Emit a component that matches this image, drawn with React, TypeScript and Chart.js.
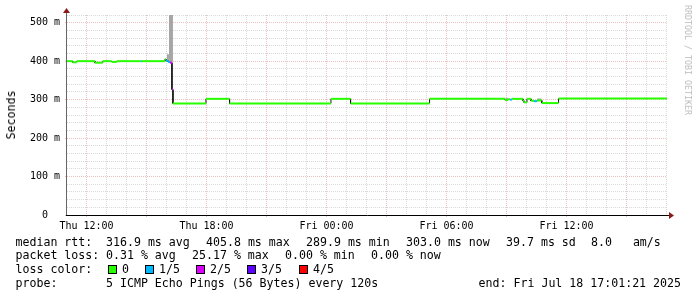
import React, { useEffect, useRef } from 'react';
import { Chart, registerables } from 'chart.js';

Chart.register(...registerables);

// ---- time range (hours since Thu 00:00) ----
const START_HOUR = 11 + 1 / 60 + 21 / 3600; // Thu 11:01:21
const END_HOUR = START_HOUR + 30; // Fri 17:01:21

// ---- median rtt (ms), step starts in hours, loss level (0..4 of 5 pings) ----
const medianHours = [
  11.0225, 11.31, 11.51, 12.42, 12.81, 13.26, 13.51, 14.72, 14.77, 15.92, 15.97, 16.07,
  16.17, 16.27, 16.32, 17.97, 19.15, 24.22, 25.2, 29.15, 32.92, 33.07, 33.17, 33.27,
  33.82, 33.87, 34.02, 34.22, 34.37, 34.52, 34.76, 35.6,
];
const medianMs = [
  400, 397, 400, 396, 400, 398, 400, 400, 400, 405, 401, 398,
  396, 326, 290, 302, 290, 302, 290, 302, 299, 301, 300, 302,
  297, 293, 302, 297, 296, 298, 291, 303,
];
const lossLevel = [
  0, 0, 0, 0, 0, 0, 0, 1, 0, 0, 1, 1,
  2, 2, 0, 0, 0, 0, 0, 0, 0, 0, 1, 0,
  0, 0, 0, 0, 1, 0, 0, 0,
];

// ---- smoke (spread of the pings) ----
const smokeStartHours = [16.02, 16.12, 32.95, 34.52];
const smokeEndHours = [16.12, 16.32, 33.07, 34.76];
const smokeLowMs = [398, 398, 298, 296];
const smokeHighMs = [418, 520, 305, 303];

// ---- axes ----
const xTickHours = [12, 18, 24, 30, 36];
const xTickLabels = ['Thu 12:00', 'Thu 18:00', 'Fri 00:00', 'Fri 06:00', 'Fri 12:00'];
const yTickValues = [0, 100, 200, 300, 400, 500];
const yTickLabels = ['0  ', '100 m', '200 m', '300 m', '400 m', '500 m'];
const Y_MAX = 520;

// ---- legend ----
const lossNames = ['0', '1/5', '2/5', '3/5', '4/5'];
const lossColors = ['#26ff00', '#00b8ff', '#dd00ff', '#5e00ff', '#ff0000'];
const rttRow = ['median rtt:', '316.9 ms avg', '405.8 ms max', '289.9 ms min', '303.0 ms now', '39.7 ms sd', '8.0   am/s'];
const lossRow = ['packet loss:', '0.31 % avg', '25.17 % max', '0.00 % min', '0.00 % now'];
const probeRow = ['probe:', '5 ICMP Echo Pings (56 Bytes) every 120s'];
const endText = 'end: Fri Jul 18 17:01:21 2025';

// layout (pixels)
const rttX = [15.5, 106, 206, 306, 406, 506, 591];
const lossX = [15.5, 106, 192, 285, 371];
const probeX = [15.5, 106];
const boxX = [108, 145, 196, 247, 299];
const rowTop = [234.5, 248.3, 262.1, 275.9];

const MONO = "'DejaVu Sans Mono', monospace";
const GRID = 'rgba(140,140,140,0.32)';
const MGRID = 'rgba(200,60,60,0.32)';
const NONE = 'rgba(0,0,0,0)';

// build step runs
const stepEnds = medianHours.map((h, i) => (i + 1 < medianHours.length ? medianHours[i + 1] : END_HOUR));
const runPoints: { x: number; y: number }[] = [];
const runLoss: number[] = [];
medianHours.forEach((h, i) => {
  runPoints.push({ x: h, y: medianMs[i] }, { x: stepEnds[i], y: medianMs[i] });
  runLoss.push(lossLevel[i], lossLevel[i]);
});

const xGridHours: number[] = [];
for (let h = Math.ceil(START_HOUR); h <= END_HOUR; h++) xGridHours.push(h);
const yGridValues: number[] = [];
for (let v = 0; v <= Y_MAX; v += 20) yGridValues.push(v);

const axesPlugin = {
  id: 'rrdAxes',
  afterDatasetsDraw(chart: any) {
    const { ctx, chartArea } = chart;
    const { left, right, top, bottom } = chartArea;
    ctx.save();
    ctx.lineWidth = 1;
    ctx.strokeStyle = '#666666';
    ctx.beginPath();
    ctx.moveTo(left - 0.5, bottom + 1);
    ctx.lineTo(left - 0.5, top - 3);
    ctx.stroke();
    ctx.strokeStyle = '#000000';
    ctx.beginPath();
    ctx.moveTo(left - 1, bottom + 0.5);
    ctx.lineTo(right + 2, bottom + 0.5);
    ctx.stroke();
    ctx.fillStyle = '#8b1a1a';
    ctx.beginPath();
    ctx.moveTo(left - 0.5, top - 7);
    ctx.lineTo(left - 4, top - 2);
    ctx.lineTo(left + 3, top - 2);
    ctx.closePath();
    ctx.fill();
    ctx.beginPath();
    ctx.moveTo(right + 7, bottom + 0.5);
    ctx.lineTo(right + 2, bottom - 3);
    ctx.lineTo(right + 2, bottom + 4);
    ctx.closePath();
    ctx.fill();
    ctx.restore();
  },
};

export default function App() {
  const ref = useRef<HTMLCanvasElement>(null);

  useEffect(() => {
    if (!ref.current) return;
    const smokeSets = smokeStartHours.map((s, i) => ({
      type: 'line' as const,
      data: [
        { x: s, y: smokeHighMs[i] },
        { x: smokeEndHours[i], y: smokeHighMs[i] },
      ],
      fill: { value: smokeLowMs[i] },
      backgroundColor: '#a6a6a6',
      borderWidth: 0,
      pointRadius: 0,
      order: 5,
    }));
    const chart = new Chart(ref.current, {
      type: 'line',
      data: {
        datasets: [
          {
            data: runPoints,
            borderWidth: 2,
            borderColor: lossColors[0],
            pointRadius: 0,
            fill: false,
            order: 0,
            segment: {
              borderColor: (c: any) =>
                c.p0.parsed.y !== c.p1.parsed.y ? NONE : lossColors[runLoss[c.p0DataIndex]],
            },
          },
          {
            data: runPoints,
            borderWidth: 1,
            borderColor: NONE,
            pointRadius: 0,
            fill: false,
            order: 1,
            segment: {
              borderColor: (c: any) => (c.p0.parsed.y !== c.p1.parsed.y ? '#111111' : NONE),
            },
          },
          ...smokeSets,
        ] as any,
      },
      options: {
        animation: false,
        responsive: false,
        devicePixelRatio: 1,
        events: [],
        layout: { padding: { left: 0, top: 15, right: 30, bottom: 0 } },
        plugins: { legend: { display: false }, tooltip: { enabled: false } },
        scales: {
          x: {
            type: 'linear',
            min: START_HOUR,
            max: END_HOUR,
            afterBuildTicks: (s: any) => {
              s.ticks = xGridHours.map((v) => ({ value: v }));
            },
            afterFit: (s: any) => {
              s.height = 82;
            },
            ticks: {
              autoSkip: false,
              maxRotation: 0,
              minRotation: 0,
              padding: 3,
              color: '#000',
              font: { family: MONO, size: 10 },
              callback: (v: any) => {
                const i = xTickHours.indexOf(Math.round(Number(v)));
                return i >= 0 && Math.abs(Number(v) - xTickHours[i]) < 1e-6 ? xTickLabels[i] : '';
              },
            },
            grid: {
              lineWidth: 1,
              color: (c: any) => (Math.round(c.tick.value) % 3 === 0 ? MGRID : GRID),
              drawTicks: true,
              tickLength: 2,
              tickColor: (c: any) => (Math.round(c.tick.value) % 3 === 0 ? MGRID : NONE),
            },
            border: { display: false, dash: [1, 1] },
          },
          y: {
            type: 'linear',
            min: 0,
            max: Y_MAX,
            afterBuildTicks: (s: any) => {
              s.ticks = yGridValues.map((v) => ({ value: v }));
            },
            afterFit: (s: any) => {
              s.width = 67;
            },
            ticks: {
              autoSkip: false,
              padding: 5,
              color: '#000',
              font: { family: MONO, size: 10 },
              callback: (v: any) => {
                const i = yTickValues.indexOf(Number(v));
                return i >= 0 ? yTickLabels[i] : '';
              },
            },
            grid: {
              lineWidth: 1,
              color: (c: any) => (c.tick.value % 100 === 0 ? MGRID : GRID),
              drawTicks: true,
              tickLength: 2,
              tickColor: (c: any) => (c.tick.value % 100 === 0 ? MGRID : NONE),
            },
            border: { display: false, dash: [1, 1] },
          },
        },
      },
      plugins: [axesPlugin],
    } as any);
    return () => chart.destroy();
  }, []);

  const textStyle: React.CSSProperties = {
    position: 'absolute',
    fontFamily: MONO,
    fontSize: '11.6px',
    lineHeight: '14px',
    whiteSpace: 'pre',
    color: '#000',
  };

  return (
    <div style={{ position: 'absolute', left: 0, top: 0, width: 697, height: 297, background: '#fff', overflow: 'hidden' }}>
      <canvas ref={ref} width={697} height={297} style={{ display: 'block', width: 697, height: 297 }} />
      <div
        style={{
          ...textStyle,
          left: 11,
          top: 115,
          transform: 'translate(-50%, -50%) rotate(-90deg)',
        }}
      >
        Seconds
      </div>
      <div
        style={{
          position: 'absolute',
          left: 687.5,
          top: 60,
          transform: 'translate(-50%, -50%) rotate(90deg)',
          fontFamily: MONO,
          fontSize: '8.3px',
          lineHeight: '10px',
          whiteSpace: 'pre',
          color: '#bdbdbd',
        }}
      >
        RRDTOOL / TOBI OETIKER
      </div>
      {rttRow.map((t, i) => (
        <div key={'r' + i} style={{ ...textStyle, left: rttX[i], top: rowTop[0] }}>
          {t}
        </div>
      ))}
      {lossRow.map((t, i) => (
        <div key={'l' + i} style={{ ...textStyle, left: lossX[i], top: rowTop[1] }}>
          {t}
        </div>
      ))}
      <div style={{ ...textStyle, left: 15.5, top: rowTop[2] }}>loss color:</div>
      {lossNames.map((n, i) => (
        <React.Fragment key={'c' + i}>
          <div
            style={{
              position: 'absolute',
              left: boxX[i],
              top: rowTop[2] + 2.5,
              width: 7,
              height: 7,
              border: '1px solid #000',
              background: lossColors[i],
            }}
          />
          <div style={{ ...textStyle, left: boxX[i] + 14, top: rowTop[2] }}>{n}</div>
        </React.Fragment>
      ))}
      {probeRow.map((t, i) => (
        <div key={'p' + i} style={{ ...textStyle, left: probeX[i], top: rowTop[3] }}>
          {t}
        </div>
      ))}
      <div style={{ ...textStyle, right: 697 - 681, top: rowTop[3] }}>{endText}</div>
    </div>
  );
}
